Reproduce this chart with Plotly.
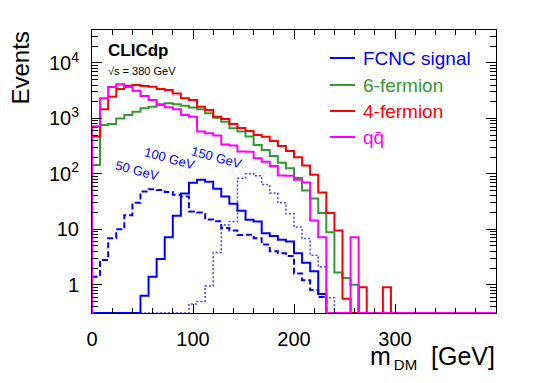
import plotly.graph_objects as go

# m_DM histogram, 8 GeV bins from 0 to 400 GeV
BIN_WIDTH = 8
N_BINS = 50

# Events per bin (0 = empty bin)
fermion6 = [145, 760, 790, 1000, 1150, 1320, 1520, 1630, 1800, 1870,
            1800, 1700, 1570, 1460, 1240, 1030, 875, 665, 580, 470,
            333, 270, 210, 158, 126, 84, 50, 36, 19.6, 8.8,
            1.67, 1.32, 1.0, 0, 0, 0, 0, 0, 0, 0,
            0, 0, 0, 0, 0, 0, 0, 0, 0, 0]
fermion4 = [470, 1470, 2460, 3400, 3900, 4000, 3850, 3730, 3400, 3250,
            2830, 2300, 2150, 1630, 1420, 1070, 980, 790, 675, 595,
            500, 465, 390, 318, 258, 200, 141, 96, 46, 19.6,
            9.5, 0.56, 0, 0.9, 0, 0, 0.9, 0, 0, 0,
            0, 0, 0, 0, 0, 0, 0, 0, 0, 0]
qqbar = [720, 2300, 3700, 4150, 3700, 3170, 2540, 2150, 1740, 1590,
         1470, 1150, 1070, 580, 540, 490, 340, 325, 252, 250,
         192, 165, 138, 93, 92, 78, 70, 14.4, 7.2, 0,
         0, 0, 7.2, 0, 0, 0, 0, 0, 0, 0,
         0, 0, 0, 0, 0, 0, 0, 0, 0, 0]
sig50 = [1.4, 2.8, 6.9, 10, 18, 30, 48, 53, 51, 47,
         42, 39, 21, 20, 15, 14, 10.5, 9.5, 7.9, 8.0,
         6.9, 5.3, 4.0, 3.7, 3.3, 1.6, 1.2, 0.8, 0.6, 0,
         0, 0, 0, 0, 0, 0, 0, 0, 0, 0,
         0, 0, 0, 0, 0, 0, 0, 0, 0, 0]
sig100 = [0, 0, 0, 0, 0, 0, 0.63, 1.4, 2.9, 7.2,
          17.5, 44, 69, 78, 72, 54, 39, 29, 21.5, 14.8,
          13.8, 8.5, 7.6, 6.5, 6.0, 3.7, 2.5, 1.75, 0.68, 0,
          0, 0, 0, 0, 0, 0, 0, 0, 0, 0,
          0, 0, 0, 0, 0, 0, 0, 0, 0, 0]
sig150 = [0, 0, 0, 0, 0, 0, 0, 0, 0, 0,
          0, 0, 0.45, 0.5, 0.95, 3.8, 12, 13.8, 83, 100,
          92, 64, 45, 30, 19, 11, 6.8, 3.4, 2.1, 0.58,
          0, 0, 0, 0, 0, 0, 0, 0, 0, 0,
          0, 0, 0, 0, 0, 0, 0, 0, 0, 0]

legend_names = ["FCNC signal", "6-fermion", "4-fermion", "q\u0071\u0304"]
signal_labels = ["50 GeV", "100 GeV", "150 GeV"]
x_tickvals = [0, 100, 200, 300]
y_tickvals = [1, 10, 100, 1000, 10000]
y_ticktext = ["1", "10", "10<sup>2</sup>", "10<sup>3</sup>", "10<sup>4</sup>"]

Y_LOG_RANGE = [-0.51, 4.595]
FLOOR = 10 ** Y_LOG_RANGE[0]

FONT = "Liberation Sans, Arial, Helvetica, sans-serif"
BLUE = "#0000ff"
GREEN = "#339933"
RED = "#ff0000"
MAGENTA = "#ff00ff"

# the page body adds an 8 px margin, so the figure is placed 8 px in
OFF = 8
W, H = 540 - OFF, 383 - OFF
ML, MT = 92 - OFF, 30 - OFF
MR = W - (496 - OFF)
MB = H - (313 - OFF)


def px_x(px):
    # screen pixel (as in the reference) -> paper x
    return (px - OFF - ML) / (W - ML - MR)


def px_y(py):
    return (H - MB - (py - OFF)) / (H - MT - MB)


def step_trace(values, color, width=2, dash="solid"):
    # ROOT-like histogram outline: empty bins drawn on the frame bottom
    edges = [i * BIN_WIDTH for i in range(N_BINS + 1)]
    ys = [v if v > 0 else FLOOR for v in values]
    x = [edges[0]] + edges
    y = [FLOOR] + ys + [ys[-1]]
    return go.Scatter(x=x, y=y, mode="lines", line_shape="hv",
                      line=dict(color=color, width=width, dash=dash),
                      hoverinfo="skip")


fig = go.Figure()
fig.add_trace(step_trace(sig150, "rgb(70,70,255)", 1.5, "2px,2px"))
fig.add_trace(step_trace(sig50, BLUE, 2, "6px,3px"))
fig.add_trace(step_trace(sig100, BLUE, 2))
fig.add_trace(step_trace(fermion6, GREEN, 2))
fig.add_trace(step_trace(fermion4, RED, 2))
fig.add_trace(step_trace(qqbar, MAGENTA, 2))

annotations = [
    dict(text="Events", textangle=-90, x=px_x(20), y=px_y(30),
         xanchor="center", yanchor="top", font=dict(size=24)),
    dict(text="m<sub><span style='font-size:15px'>\u2009DM</span></sub>"
              "\u00a0\u00a0[GeV]",
         x=px_x(497), y=px_y(357),
         xanchor="right", yanchor="middle", font=dict(size=25)),
    dict(text="<b>CLICdp</b>", x=px_x(106), y=px_y(51),
         xanchor="left", yanchor="middle", font=dict(size=17)),
    dict(text="\u221as = 380 GeV", x=px_x(106), y=px_y(71),
         xanchor="left", yanchor="middle", font=dict(size=11)),
]
for lab, cx, cy in zip(signal_labels, [137, 170, 217], [170, 158, 157]):
    annotations.append(dict(text=lab, x=px_x(cx), y=px_y(cy), textangle=15,
                            xanchor="center", yanchor="middle",
                            font=dict(size=13, color=BLUE)))

shapes = []
leg_colors = [BLUE, GREEN, RED, MAGENTA]
leg_y = [58, 85, 111, 137]
for name, col, ly in zip(legend_names, leg_colors, leg_y):
    shapes.append(dict(type="line", xref="paper", yref="paper",
                       x0=px_x(330), x1=px_x(355), y0=px_y(ly), y1=px_y(ly),
                       line=dict(color=col, width=2)))
    annotations.append(dict(text=name, x=px_x(361), y=px_y(ly),
                            xanchor="left", yanchor="middle",
                            font=dict(size=19, color=col)))

for a in annotations:
    a.update(xref="paper", yref="paper", showarrow=False)

# minor log ticks at 2..9 of each decade
y_minor = [m * 10 ** d for d in range(-1, 5) for m in range(2, 10)]

fig.update_layout(
    width=W, height=H,
    margin=dict(l=ML, r=MR, t=MT, b=MB, autoexpand=False),
    plot_bgcolor="white", paper_bgcolor="white",
    font=dict(family=FONT, color="black"),
    showlegend=False,
    annotations=annotations,
    shapes=shapes,
)
fig.update_xaxes(
    range=[0, 400], tickmode="array", tickvals=x_tickvals,
    showline=True, linecolor="black", linewidth=1, mirror="allticks",
    ticks="inside", ticklen=9, tickcolor="black",
    minor=dict(tickmode="linear", tick0=0, dtick=20, ticks="inside",
               ticklen=5, tickcolor="black"),
    showgrid=False, zeroline=False, automargin=False,
    tickfont=dict(size=20), ticklabelstandoff=8,
)
fig.update_yaxes(
    type="log", range=Y_LOG_RANGE,
    tickmode="array", tickvals=y_tickvals, ticktext=y_ticktext,
    showline=True, linecolor="black", linewidth=1, mirror="allticks",
    ticks="inside", ticklen=10, tickcolor="black",
    minor=dict(tickmode="array", tickvals=y_minor, ticks="inside",
               ticklen=6, tickcolor="black"),
    showgrid=False, zeroline=False, automargin=False,
    tickfont=dict(size=20), ticklabelstandoff=8,
)

fig.write_html("out.html")
